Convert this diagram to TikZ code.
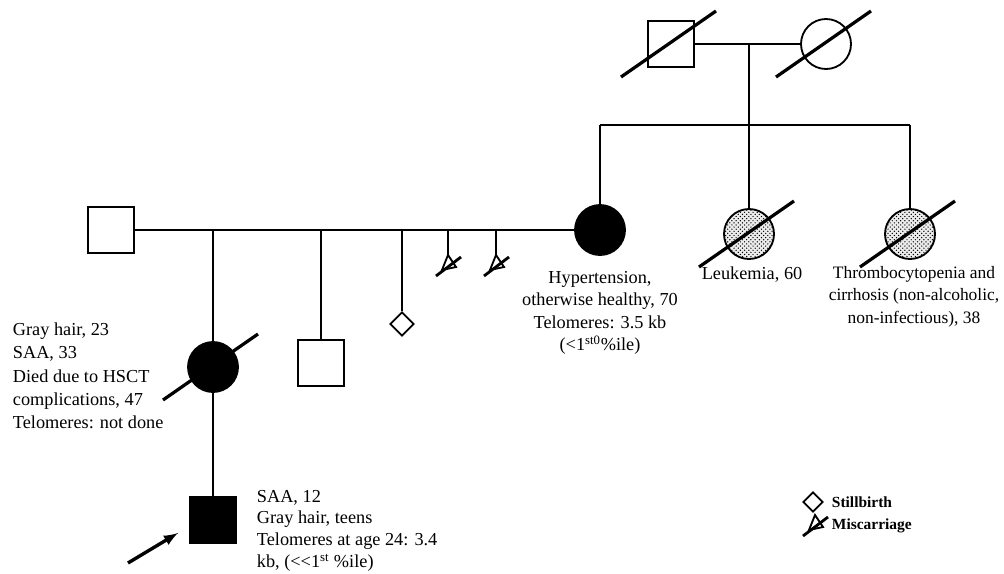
\documentclass[tikz,border=0pt]{standalone}
\usepackage{fontspec}
\setmainfont{Liberation Serif}
\usetikzlibrary{positioning}
\usetikzlibrary{arrows}
\usetikzlibrary{shapes.geometric}
\usetikzlibrary{patterns}

\tikzset{
 male/.style={draw, rectangle, minimum size=1.15cm, inner sep=0pt},
 female/.style={draw, circle, minimum size=1.25cm, inner sep=0pt},
 affected/.style={fill=black},
 carrier/.style={pattern=crosshatch dots, preaction={fill=gray!15}},
 stillborn/.style={draw, diamond, minimum size=0.6cm, inner sep=0pt},
 slash/.style={line width=2.3pt},
 note/.style={inner sep=0pt, font=\fontsize{13}{16}\selectfont},
 keytext/.style={inner sep=0pt, anchor=west, font=\fontsize{11}{13}\selectfont\bfseries},
 miscarriage/.pic={
  \draw (0,0) -- (-6,15) -- (8,12) -- cycle;
  \draw[line width=2pt] (-12,21) -- (13,2);
 }
}

\begin{document}
\begin{tikzpicture}[x=0.025cm, y=-0.025cm, line width=1.3pt]
 \useasboundingbox (0,0) rectangle (1004,573);
 % grandparents
 \node[male] (gf) at (671,44) {};
 \node[female] (gm) at (826,44) {};
 \draw (gf) -- (gm);
 \coordinate (gp) at (749,44);
 \coordinate (sib) at (749,125);
 \draw (gp) -- (sib);
 % their children
 \node[female, affected] (mom) at (600,230) {};
 \node[female, carrier] (leuk) at (749,234) {};
 \node[female, carrier] (thromb) at (910,234) {};
 \coordinate (s1) at (600,125);
 \coordinate (s3) at (910,125);
 \draw (s1) -- (s3);
 \draw (s1) -- (mom);
 \draw (sib) -- (leuk);
 \draw (s3) -- (thromb);
 % parents
 \node[male] (dad) at (111,230) {};
 \draw (dad) -- (mom);
 % sibship
 \node[female, affected] (sis) at (213,367) {};
 \node[male] (bro) at (321,363) {};
 \node[stillborn] (sb) at (402,324) {};
 \coordinate (d1) at (213,230);
 \coordinate (d2) at (321,230);
 \coordinate (d3) at (402,230);
 \draw (d1) -- (sis);
 \draw (d2) -- (bro);
 \draw (d3) -- (sb);
 \foreach \x/\n in {448/m1,496/m2} {
  \coordinate (t\n) at (\x,230);
  \coordinate (\n) at (\x,255);
  \draw (t\n) -- (\n);
  \pic at (\n) {miscarriage};
 }
 % proband
 \node[male, affected] (pro) at (213,520) {};
 \draw (sis) -- (pro);
 \coordinate (arr) at (128,563);
 \coordinate (arrtip) at (178,533);
 \draw[line width=2.4pt, -latex] (arr) -- (arrtip);
 % deceased
 \foreach \n in {gf,gm,leuk,thromb,sis}
  \draw[slash] ([shift={(-50,33)}]\n.center) -- ([shift={(45,-33)}]\n.center);
 % texts
 \node[note, anchor=north west, align=left, font=\fontsize{13}{16.5}\selectfont] (sistext) at (12,322)
  {Gray hair, 23\\SAA, 33\\Died due to HSCT\\complications, 47\\Telomeres: not done};
 \node[note, anchor=north, align=center] (momtext) at (600,270)
  {Hypertension,\\otherwise healthy, 70\\Telomeres: 3.5 kb\\({<}1\textsuperscript{st0}\%ile)};
 \node[note, anchor=north] (leuktext) at (752,266) {Leukemia, 60};
 \node[note, anchor=north, align=center, font=\fontsize{12.4}{16}\selectfont] (thrombtext) at (914,265)
  {Thrombocytopenia and\\cirrhosis (non-alcoholic,\\non-infectious), 38};
 \node[note, anchor=north west, align=left, font=\fontsize{13}{15.6}\selectfont] (protext) at (256,489)
  {SAA, 12\\Gray hair, teens\\Telomeres at age 24: 3.4\\kb, ({<}{<}1\textsuperscript{st} \%ile)};
 % legend
 \node[stillborn, minimum size=0.5cm] (sbkey) at (813,502) {};
 \node[keytext] (sbtext) at (831,502) {Stillbirth};
 \coordinate (mkey) at (815,515);
 \pic at (mkey) {miscarriage};
 \node[keytext] (mtext) at (831,526) {Miscarriage};
\end{tikzpicture}
\end{document}
